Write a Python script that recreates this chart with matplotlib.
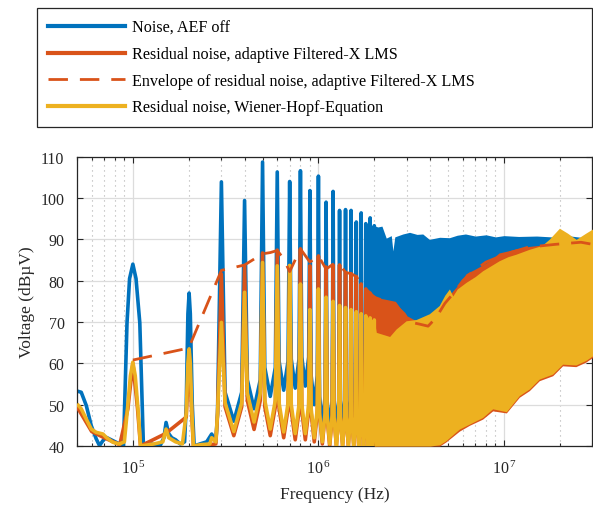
import numpy as np
import matplotlib
matplotlib.use("Agg")
import matplotlib.pyplot as plt
from matplotlib.lines import Line2D
from matplotlib.ticker import FixedLocator, FixedFormatter, LogLocator, NullFormatter

plt.rcParams['font.family'] = ['Liberation Serif', 'DejaVu Serif']
plt.rcParams['mathtext.fontset'] = 'custom'
plt.rcParams['mathtext.rm'] = 'Liberation Serif'
plt.rcParams['mathtext.it'] = 'Liberation Serif:italic'

# ---------------- data ----------------
F0 = 1e5  # harmonic spacing (Hz)

# low-frequency detail (below 3rd harmonic)
blue_low_f = [5.0e4, 5.27e4, 5.61e4, 5.97e4, 6.35e4, 6.61e4, 6.9e4, 7.18e4, 7.8e4, 8.47e4, 8.9e4,
              9.3e4, 9.6e4, 1.0e5, 1.04e5, 1.09e5, 1.14e5, 1.2e5, 1.3e5, 1.4e5, 1.47e5, 1.51e5,
              1.56e5, 1.62e5, 1.7e5, 1.8e5, 1.9e5, 1.94e5, 1.98e5, 2.01e5, 2.04e5, 2.09e5, 2.14e5,
              2.3e5, 2.5e5, 2.66e5, 2.8e5]
blue_low_v = [53.3, 53.0, 49.8, 44.9, 41.7, 40.1, 41.3, 42.1, 41.3, 40.5, 40.0,
              69.8, 80.5, 84.0, 80.5, 69.8, 40.0, 40.8, 40.3, 40.0, 42.0, 45.7,
              43.0, 42.0, 41.5, 40.5, 41.0, 50.0, 72.0, 77.0, 72.0, 50.0, 40.0,
              40.5, 41.0, 42.9, 41.0]

yel_low_f = [5.0e4, 5.27e4, 5.61e4, 5.97e4, 6.35e4, 6.9e4, 7.18e4, 7.8e4, 8.47e4, 9.0e4,
             9.4e4, 9.7e4, 1.0e5, 1.03e5, 1.07e5, 1.1e5, 1.3e5, 1.45e5, 1.51e5, 1.56e5, 1.7e5,
             1.85e5, 1.94e5, 1.98e5, 2.01e5, 2.04e5, 2.08e5, 2.12e5, 2.3e5, 2.6e5, 2.66e5, 2.8e5]
yel_low_v = [50.2, 49.0, 46.5, 44.1, 43.3, 42.9, 42.1, 40.9, 40.5, 41.0,
             50.0, 57.0, 60.3, 57.0, 48.0, 40.0, 40.5, 41.0, 44.1, 42.0, 41.0,
             40.5, 48.0, 60.0, 63.5, 60.0, 48.0, 40.0, 40.3, 40.5, 42.0, 41.0]

org_low_f = [5.0e4, 6.0e4, 7.0e4, 8.5e4, 9.4e4, 1.0e5, 1.06e5, 1.1e5, 1.5e5, 1.94e5, 2.01e5,
             2.08e5, 2.12e5, 2.5e5, 2.8e5]
org_low_v = [49.5, 43.5, 42.0, 40.3, 49.0, 60.0, 49.0, 40.0, 43.0, 47.0, 63.0,
             47.0, 40.0, 40.2, 40.5]

# harmonics 3 ... 20 (spikes): peak value and valley value after each harmonic
harm_n = [3, 4, 5, 6, 7, 8, 9, 10, 11, 12, 13, 14, 15, 16, 17, 18, 19, 20]
blue_peak = [103.9, 99.4, 108.7, 106.3, 104.0, 106.6, 101.8, 105.3, 99.0, 101.6, 97.0, 97.2,
             97.0, 94.2, 96.4, 93.8, 95.2, 93.3]
blue_valley = [46.0, 49.0, 52.0, 53.5, 54.0, 54.5, 50.0, 45.0, 44.0, 44.0, 44.0, 44.0,
               44.0, 44.0, 44.0, 44.0, 44.0, 44.0]
org_peak = [81.6, 83.5, 86.7, 87.4, 83.6, 87.7, 83.6, 86.0, 83.3, 83.8, 83.8, 82.0,
            81.7, 81.0, 79.2, 78.0, 77.0, 76.0]
org_valley = [42.5, 44.0, 42.5, 42.0, 41.5, 41.5, 41.0, 40.5, 40.0, 40.0, 40.0, 40.0,
              40.0, 40.0, 40.0, 40.0, 40.0, 40.0]
yel_peak = [69.9, 77.2, 84.4, 83.6, 83.7, 79.2, 73.0, 78.0, 76.0, 75.0, 74.0, 73.5,
            73.0, 72.5, 72.0, 71.5, 71.0, 70.5]
yel_valley = [43.5, 45.8, 44.1, 43.4, 43.0, 43.0, 42.0, 41.0, 40.5, 40.0, 40.0, 40.0,
              40.0, 40.0, 40.0, 40.0, 40.0, 40.0]

# dense region (> 2 MHz): upper / lower envelopes
blue_up_f = [2.0e6, 2.09e6, 2.2e6, 2.32e6, 2.47e6, 2.52e6, 2.58e6, 2.85e6, 3.1e6, 3.4e6, 3.65e6,
             3.96e6, 4.5e6, 5.08e6, 5.6e6, 6.2e6, 7e6, 8e6, 9e6, 1e7, 1.2e7, 1.5e7, 1.8e7,
             2.2e7, 2.6e7, 3e7]
blue_up = [93.3, 93.0, 93.2, 90.3, 90.9, 87.2, 90.6, 91.3, 91.7, 91.2, 91.3,
           90.0, 90.5, 90.4, 91.0, 91.3, 90.8, 91.1, 90.6, 90.9, 90.7, 90.8, 90.6,
           90.9, 90.5, 90.7]

org_up_f = [2.0e6, 2.3e6, 2.6e6, 2.8e6, 3.0e6, 3.3e6, 3.6e6, 4.0e6, 4.5e6, 5.0e6, 5.3e6,
            5.8e6, 6.25e6, 7.0e6, 7.67e6, 8.5e6, 9.4e6, 1.05e7, 1.16e7, 1.37e7, 1.6e7,
            2.0e7, 2.5e7, 3.0e7]
org_up = [76.0, 75.5, 75.0, 73.0, 71.5, 70.5, 70.0, 70.5, 73.0, 76.0, 77.5,
          79.5, 81.7, 82.8, 83.8, 85.0, 86.7, 87.2, 87.7, 88.3, 88.6,
          88.9, 89.2, 89.0]

yel_up_f = [2.0e6, 2.05e6, 2.42e6, 2.62e6, 2.97e6, 3.36e6, 3.96e6, 4.48e6, 4.8e6, 5.08e6,
            5.3e6, 5.6e6, 6.25e6, 7.0e6, 7.67e6, 8.5e6, 9.4e6, 1.05e7, 1.16e7, 1.37e7,
            1.6e7, 1.75e7, 1.99e7, 2.2e7, 2.45e7, 2.76e7, 3.0e7]
yel_up = [70.5, 67.5, 66.5, 68.3, 70.3, 70.6, 72.0, 74.0, 76.5, 78.0,
          76.3, 78.0, 79.6, 81.0, 82.4, 83.6, 84.8, 85.8, 86.4, 87.6,
          88.5, 90.0, 92.7, 91.5, 90.0, 91.5, 92.5]

lo_f = [2.0e6, 3.0e6, 4.0e6, 4.5e6, 4.87e6, 5.75e6, 6.51e6, 7.67e6, 8.69e6, 1.03e7, 1.21e7,
        1.37e7, 1.55e7, 1.83e7, 2.07e7, 2.44e7, 2.76e7, 3.0e7]
yel_lo = [40.0, 40.0, 40.0, 40.3, 41.3, 44.1, 45.3, 46.9, 49.0, 48.3, 52.2,
          53.8, 56.2, 57.4, 59.8, 59.6, 60.7, 61.8]
org_lo = [40.0, 40.0, 40.0, 40.0, 41.0, 43.6, 45.0, 46.5, 48.5, 48.0, 51.8,
          53.4, 55.8, 57.0, 59.4, 59.2, 60.3, 61.4]
blue_lo = [40.0, 40.0, 40.0, 40.3, 41.3, 44.1, 45.3, 46.9, 49.0, 48.3, 52.2,
           53.8, 56.2, 58.6, 60.5, 61.0, 62.5, 63.0]

# envelope of residual noise (dashed)
env_f = [1e5, 2e5, 3e5, 4e5, 5e5, 5.5e5, 6e5, 6.45e5, 7e5, 8e5, 9e5, 1e6, 1.1e6, 1.2e6, 1.3e6,
         1.4e6, 1.5e6, 1.6e6, 1.7e6, 1.8e6, 1.9e6, 2e6, 2.3e6, 2.6e6, 2.9e6, 3.1e6, 3.5e6,
         3.9e6, 4.3e6, 4.8e6, 5.4e6, 6e6, 6.7e6, 8e6, 1.03e7, 1.35e7, 1.9e7, 2.6e7, 3e7]
env_v = [60.8, 63.7, 82.5, 83.8, 86.5, 86.8, 87.3, 85.5, 82.2, 87.7, 84.5, 86.0, 82.8, 84.0, 84.0,
         82.0, 81.7, 81.0, 79.2, 78.0, 77.0, 76.0, 75.0, 74.0, 72.0, 70.0, 69.5,
         69.0, 71.0, 74.5, 77.2, 80.0, 82.0, 84.5, 86.5, 88.1, 88.8, 89.3, 88.8]

labels = ['Noise, AEF off',
          'Residual noise, adaptive Filtered-X LMS',
          'Envelope of residual noise, adaptive Filtered-X LMS',
          'Residual noise, Wiener-Hopf-Equation']
xtick_vals = [1e5, 1e6, 1e7]
xtick_labels = [r'$10^{\,5}$', r'$10^{\,6}$', r'$10^{\,7}$']
ytick_vals = [40, 50, 60, 70, 80, 90, 100, 110]

# ---------------- style ----------------
C_BLUE = '#0072BD'
C_ORG = '#D95319'
C_YEL = '#EDB120'
AX_C = '#262626'
LW = 2.6
HW = 1.4e4      # half width of the narrow part of a harmonic spike (Hz)
SHOULDER = 7.0  # height of spike shoulder above the valley (dB), drawing detail only


def spike_line(low_f, low_v, peaks, valleys):
    xs = list(low_f)
    ys = list(low_v)
    prev = low_v[-1]
    for n, p, v in zip(harm_n, peaks, valleys):
        f = n * F0
        xs += [f - HW, f, f + HW, f + F0 / 2]
        ys += [min(p, prev + SHOULDER), p, min(p, v + SHOULDER), v]
        prev = v
    return xs, ys


fig = plt.figure(figsize=(5.93, 5.06), dpi=100)
ax = fig.add_axes([77 / 593, 59 / 506, 515.5 / 593, 289.3 / 506])

series = [
    (C_BLUE, blue_low_f, blue_low_v, blue_peak, blue_valley, blue_up_f, blue_up, blue_lo, 2),
    (C_ORG, org_low_f, org_low_v, org_peak, org_valley, org_up_f, org_up, org_lo, 3),
    (C_YEL, yel_low_f, yel_low_v, yel_peak, yel_valley, yel_up_f, yel_up, yel_lo, 4),
]
for col, lf, lv, pk, vl, uf, uv, lo, z in series:
    xs, ys = spike_line(lf, lv, pk, vl)
    ax.plot(xs, ys, color=col, lw=LW, solid_joinstyle='round', solid_capstyle='butt', zorder=z)
    # dense part: fill between upper and lower envelopes
    fgrid = sorted(set(uf) | set(lo_f))
    up_i = np.interp(np.log10(fgrid), np.log10(uf), uv)
    lo_i = np.interp(np.log10(fgrid), np.log10(lo_f), lo)
    ax.fill_between(fgrid, lo_i, up_i, color=col, lw=0, zorder=z)

ax.plot(env_f, env_v, color=C_ORG, lw=2.0, dashes=(7.0, 4.3), zorder=5)

ax.set_xscale('log')
ax.set_xlim(5e4, 3e7)
ax.set_ylim(40, 110)
ax.xaxis.set_major_locator(FixedLocator(xtick_vals))
ax.xaxis.set_major_formatter(FixedFormatter(xtick_labels))
ax.xaxis.set_minor_locator(LogLocator(base=10, subs=np.arange(2, 10), numticks=20))
ax.xaxis.set_minor_formatter(NullFormatter())
ax.set_yticks(ytick_vals)

ax.grid(True, which='major', color='#DCDCDC', lw=0.9, ls='-')
ax.grid(True, which='minor', axis='x', color='#B0B0B0', lw=0.8, ls=(0, (1, 3.5)))
ax.set_axisbelow(True)
ax.tick_params(which='both', direction='in', top=True, right=True, colors=AX_C,
               labelsize=11.5, width=0.8)
ax.tick_params(which='major', length=4)
ax.tick_params(which='minor', length=2.5)
ax.tick_params(axis='x', pad=10)
ax.tick_params(axis='y', pad=9)
for s in ax.spines.values():
    s.set_color(AX_C)
    s.set_linewidth(0.9)

ax.set_xlabel('Frequency (Hz)', fontsize=12.5, color=AX_C, labelpad=6)
ax.set_ylabel('Voltage (dBµV)', fontsize=12.5, color=AX_C, labelpad=4)

handles = [Line2D([], [], color=C_BLUE, lw=3),
           Line2D([], [], color=C_ORG, lw=3),
           Line2D([], [], color=C_ORG, lw=2.0, dashes=(7.0, 4.3)),
           Line2D([], [], color=C_YEL, lw=3)]
leg = fig.legend(handles, labels, loc='upper left',
                 bbox_to_anchor=(36.7 / 593, 1 - 126 / 506, 555.3 / 593, 116.7 / 506),
                 mode='expand', borderaxespad=0, fontsize=11.6, handlelength=4.8,
                 handletextpad=0.4, labelspacing=0.66, borderpad=0.7,
                 fancybox=False, framealpha=1, edgecolor=AX_C)
leg.get_frame().set_linewidth(0.9)
for t in leg.get_texts():
    t.set_color('black')

fig.savefig('out.png', dpi=100)
